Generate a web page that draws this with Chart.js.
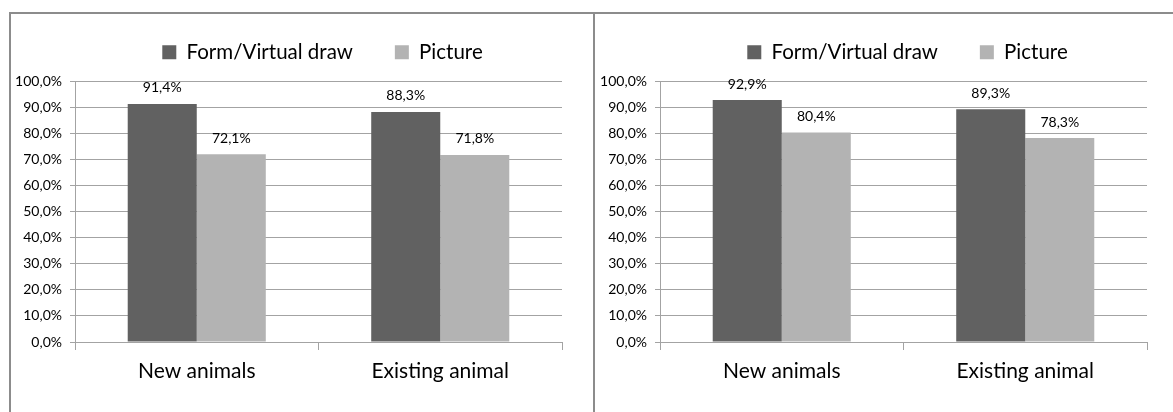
<!DOCTYPE html>
<html>
<head>
<meta charset="utf-8">
<script src="https://cdn.jsdelivr.net/npm/chart.js@4/dist/chart.umd.min.js"></script>
<style>
  html, body { margin: 0; padding: 0; background: #fff; }
  #wrap { position: relative; width: 1173px; height: 412px; overflow: hidden; }
  .panel { position: absolute; top: 12px; height: 400px; border-top: 2px solid #8c8c8c; border-left: 2px solid #8c8c8c; box-sizing: border-box; }
  canvas { position: absolute; top: 12px; }
</style>
</head>
<body>
<div id="wrap">
  <div class="panel" style="left:9px;width:586px;"></div>
  <div class="panel" style="left:593px;width:590px;"></div>
  <canvas id="chartLeft" width="584" height="400" style="left:10px;"></canvas>
  <canvas id="chartRight" width="579" height="400" style="left:594px;"></canvas>
</div>
<script>
/* ===== DATA ===== */
const categories = ["New animals", "Existing animal"];
const seriesNames = ["Form/Virtual draw", "Picture"];
const leftForm = [91.4, 88.3];
const leftPicture = [72.1, 71.8];
const rightForm = [92.9, 89.3];
const rightPicture = [80.4, 78.3];
const yTicks = [0, 10, 20, 30, 40, 50, 60, 70, 80, 90, 100];

const DARK = "#616161";
const LIGHT = "#b3b3b3";
const GRID = "#a3a3a3";
const FONT = "Lato";

const pct = v => v.toFixed(1).replace(".", ",") + "%";

/* ===== PLUGINS ===== */
const legendTweak = {
  id: "legendTweak",
  beforeLayout(chart) {
    const lg = chart.legend;
    if (lg && !lg._patched) {
      const fit = lg.fit;
      lg.fit = function () { fit.call(this); this.height = 69.5; };
      lg._patched = true;
    }
  },
  afterLayout(chart) {
    const lg = chart.legend;
    if (!lg) return;
    lg.left = chart.chartArea.left + 4;
    lg.right = chart.chartArea.right + 4;
    lg.top = -12;
  }
};

const valueLabels = {
  id: "valueLabels",
  afterDatasetsDraw(chart) {
    const ctx = chart.ctx;
    ctx.save();
    ctx.font = "14px " + FONT;
    ctx.fillStyle = "#000";
    ctx.textAlign = "center";
    ctx.textBaseline = "middle";
    chart.data.datasets.forEach((ds, i) => {
      chart.getDatasetMeta(i).data.forEach((bar, j) => {
        ctx.fillText(pct(ds.data[j]), bar.x, bar.y - 16);
      });
    });
    ctx.restore();
  }
};

function makeChart(id, form, picture, axisWidth, padRight) {
  return new Chart(document.getElementById(id), {
    type: "bar",
    data: {
      labels: categories,
      datasets: [
        { label: seriesNames[0], data: form, backgroundColor: DARK, borderWidth: 0 },
        { label: seriesNames[1], data: picture, backgroundColor: LIGHT, borderWidth: 0 }
      ]
    },
    options: {
      responsive: false,
      devicePixelRatio: 1,
      animation: false,
      layout: { padding: { left: 0, right: padRight, top: 0, bottom: 0 } },
      datasets: { bar: { barPercentage: 1, categoryPercentage: 0.567 } },
      plugins: {
        tooltip: { enabled: false },
        legend: {
          position: "top",
          labels: {
            boxWidth: 14,
            boxHeight: 14,
            padding: 42,
            color: "#000",
            font: { family: FONT, size: 20.5 }
          }
        }
      },
      scales: {
        x: {
          offset: true,
          grid: { offset: true, drawOnChartArea: false, drawTicks: true, tickLength: 8, color: GRID },
          border: { color: GRID },
          ticks: { color: "#000", padding: 9, font: { family: FONT, size: 21 } },
          afterFit(scale) { scale.height = 70; }
        },
        y: {
          min: 0,
          max: 100,
          afterBuildTicks(scale) { scale.ticks = yTicks.map(v => ({ value: v })); },
          grid: { color: GRID, tickLength: 5 },
          border: { color: GRID },
          ticks: { color: "#000", padding: 8, font: { family: FONT, size: 14 }, callback: v => pct(v) },
          afterFit(scale) { scale.width = axisWidth; }
        }
      }
    },
    plugins: [legendTweak, valueLabels]
  });
}

makeChart("chartLeft", leftForm, leftPicture, 65, 32);
makeChart("chartRight", rightForm, rightPicture, 66, 26);
</script>
</body>
</html>
